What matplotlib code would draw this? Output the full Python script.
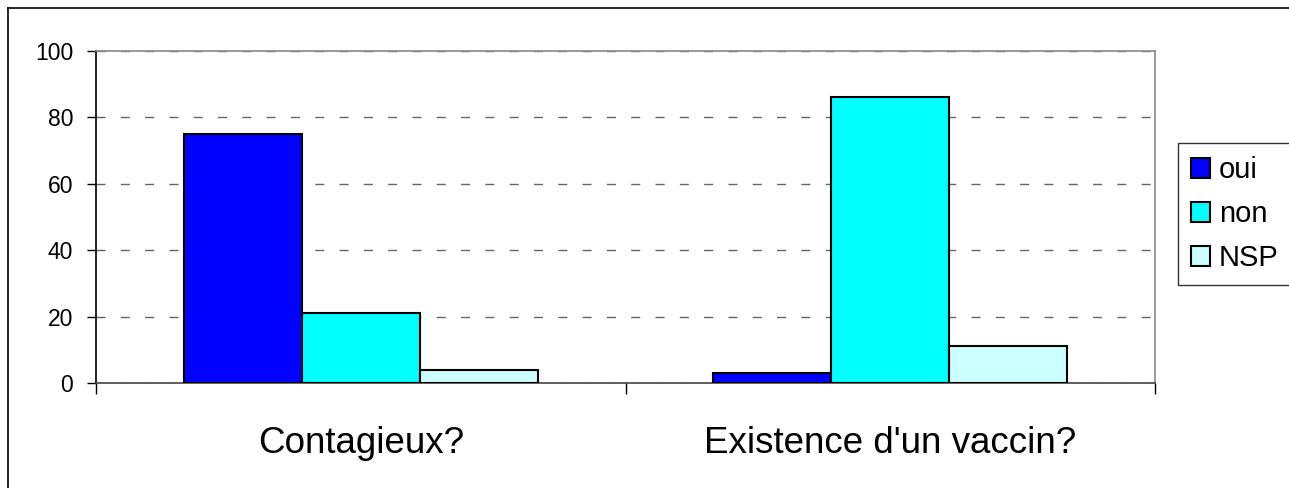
import numpy as np
import matplotlib
matplotlib.use("Agg")
import matplotlib.pyplot as plt
from matplotlib.lines import Line2D

# data
categories = ["Contagieux?", "Existence d'un vaccin?"]
series = ["oui", "non", "NSP"]
oui = [75, 3]
non = [21, 86]
nsp = [4, 11]
yticks = [0, 20, 40, 60, 80, 100]

colors = ["#0000FF", "#00FFFF", "#CCFFFF"]

W, H = 1289, 488
fig = plt.figure(figsize=(W / 100, H / 100), dpi=100)
ax = fig.add_axes([96 / W, 1 - 383 / H, (1155 - 96) / W, (383 - 51) / H])

x = np.arange(len(categories))
bw = 0.223
for i, (vals, name) in enumerate(zip([oui, non, nsp], series)):
    ax.bar(x + (i - 1) * bw, vals, width=bw, color=colors[i],
           edgecolor="black", linewidth=1.5, label=name, zorder=3)

ax.set_xlim(-0.5, 1.5)
ax.set_ylim(0, 100)
ax.set_yticks(yticks)
ax.set_yticklabels([str(t) for t in yticks], fontsize=16.5, family="Liberation Sans")
ax.tick_params(axis="y", length=6.5, width=1, direction="out", pad=10)

# category labels between boundary ticks
ax.set_xticks([-0.5, 0.5, 1.5])
ax.set_xticklabels([])
ax.tick_params(axis="x", length=8, width=1, direction="out")
ax.set_xticks(x, minor=True)
ax.set_xticklabels(categories, minor=True, fontsize=26.5, family="Liberation Sans")
ax.tick_params(axis="x", which="minor", length=0, pad=31)

ax.yaxis.grid(True, linestyle=(0, (6.5, 11)), color="#666666", linewidth=1, zorder=0)
ax.set_axisbelow(True)

ax.spines["left"].set_color("black")
ax.spines["bottom"].set_color("#444444")
ax.spines["top"].set_color("#888888")
ax.spines["right"].set_color("#888888")
for s in ax.spines.values():
    s.set_linewidth(1.2)

leg = ax.legend(loc="upper left", bbox_to_anchor=(1178 / W, 1 - 143 / H),
                bbox_transform=fig.transFigure, prop={"family": "Liberation Sans", "size": 21},
                frameon=True, fancybox=False, edgecolor="black", handlelength=0.65,
                handleheight=0.65, handletextpad=0.3, labelspacing=0.55, borderpad=0.45,
                borderaxespad=0)
leg.get_frame().set_linewidth(1.0)

# outer chart border
fig.add_artist(Line2D([8 / W, 1.0], [1 - 8 / H, 1 - 8 / H], color="black", linewidth=1.2,
                      transform=fig.transFigure))
fig.add_artist(Line2D([8 / W, 8 / W], [0, 1 - 8 / H], color="black", linewidth=1.2,
                      transform=fig.transFigure))

fig.savefig("out.png", dpi=100)
